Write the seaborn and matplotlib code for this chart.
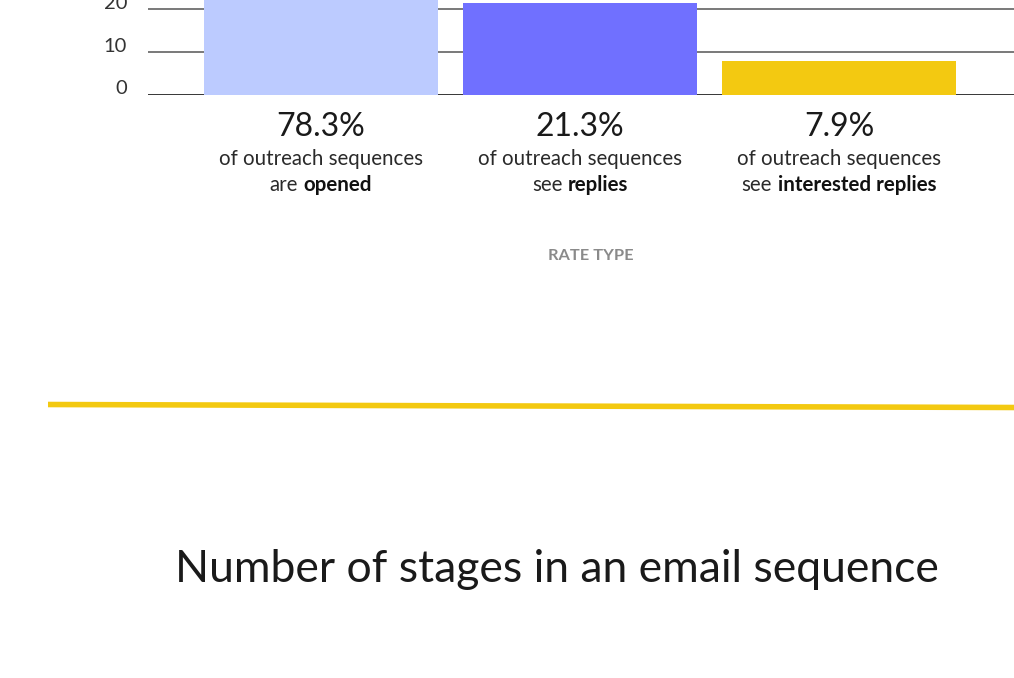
import matplotlib
matplotlib.use('Agg')
import matplotlib.pyplot as plt
import seaborn as sns
import pandas as pd
from matplotlib.lines import Line2D

# ---- data ----
rate_types = ['Open rate', 'Reply rate', 'Interested reply rate']
rates = [78.3, 21.3, 7.9]
value_labels = ['78.3%', '21.3%', '7.9%']
line1_text = ['of outreach sequences', 'of outreach sequences', 'of outreach sequences']
lead_text = ['are', 'see', 'see']
bold_text = ['opened', 'replies', 'interested replies']
colors = ['#BCCBFF', '#7070FF', '#F3C911']
y_ticks = [0, 10, 20]
x_axis_title = 'RATE TYPE'
section_title = 'Number of stages in an email sequence'

W, H = 1014, 678
DPI = 100

sns.set_theme(style='white')
plt.rcParams['font.family'] = ['Lato', 'DejaVu Sans']

fig = plt.figure(figsize=(W / DPI, H / DPI), dpi=DPI)
fig.patch.set_facecolor('white')

def fx(px):
    return px / W

def fy(py):
    return 1 - py / H

ax = fig.add_axes([fx(148), fy(94.5), fx(W) - fx(148), 94.5 / H])
df = pd.DataFrame({'type': rate_types, 'rate': rates})
sns.barplot(data=df, x='type', y='rate', hue='type', palette=colors,
            width=0.9035, legend=False, ax=ax, saturation=1, zorder=2,
            linewidth=0)
ax.set_xlim(-0.668, 2.676)
ax.set_ylim(0, 22.1)
ax.set_yticks(y_ticks)
ax.set_yticklabels([str(t) for t in y_ticks])
ax.set_xticks([])
ax.set_xlabel('')
ax.set_ylabel('')
for s in ax.spines.values():
    s.set_visible(False)
ax.set_facecolor('none')
for t in y_ticks:
    ax.axhline(t, color='#000000' if t == 0 else '#555555', lw=1.1, zorder=0.5)
ax.tick_params(axis='y', length=0, pad=15, labelsize=14.5, labelcolor='#333333')
for lab in ax.get_yticklabels():
    lab.set_va('baseline')

fig.canvas.draw()
r = fig.canvas.get_renderer()

fs_sub = 14.8
for i in range(len(rates)):
    cx = ax.transData.transform((i, 0))[0]
    fig.text(cx / W, fy(136), value_labels[i], ha='center', va='baseline',
             fontsize=23, color='#1a1a1a')
    fig.text(cx / W, fy(165), line1_text[i], ha='center', va='baseline',
             fontsize=fs_sub, color='#2a2a2a')
    t1 = fig.text(0, fy(191), lead_text[i], ha='left', va='baseline',
                  fontsize=fs_sub, color='#2a2a2a')
    t2 = fig.text(0, fy(191), bold_text[i], ha='left', va='baseline',
                  fontsize=fs_sub, color='#111111', fontweight='bold')
    w1 = t1.get_window_extent(r).width
    w2 = t2.get_window_extent(r).width
    gap = fs_sub * DPI / 72 * 0.27
    total = w1 + gap + w2
    left = cx - total / 2
    t1.set_x(left / W)
    t2.set_x((left + w1 + gap) / W)

fig.text(fx(591), fy(256), x_axis_title, ha='center', va='center',
         fontsize=11.8, color='#8a8a8a', fontweight='bold')

fig.add_artist(Line2D([fx(48), fx(W)], [fy(404.5), fy(407.5)],
                      transform=fig.transFigure, color='#F3C911', lw=4,
                      solid_capstyle='butt'))

fig.text(fx(557), fy(582), section_title, ha='center', va='baseline',
         fontsize=32, color='#1a1a1a')

fig.savefig('out.png', dpi=DPI, facecolor='white')
